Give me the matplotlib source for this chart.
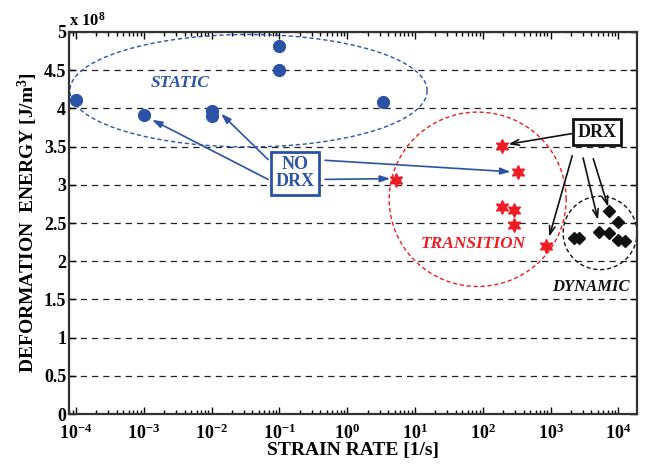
import numpy as np
import matplotlib
matplotlib.use("Agg")
import matplotlib.pyplot as plt
from matplotlib.ticker import FuncFormatter, LogLocator, NullFormatter

matplotlib.rcParams["font.family"] = "Liberation Serif"
matplotlib.rcParams["font.weight"] = "bold"
matplotlib.rcParams["axes.labelweight"] = "bold"
matplotlib.rcParams["mathtext.fontset"] = "custom"
matplotlib.rcParams["mathtext.rm"] = "Liberation Serif:bold"
matplotlib.rcParams["mathtext.it"] = "Liberation Serif:bold:italic"
matplotlib.rcParams["mathtext.bf"] = "Liberation Serif:bold"
matplotlib.rcParams["mathtext.default"] = "rm"

# ── Data ──────────────────────────────────────────────────────────────────────
STATIC_RATE   = [1e-4, 1e-3, 1e-2, 1e-2, 0.1, 0.1, 3.4]
STATIC_ENERGY = [4.11e8, 3.91e8, 3.97e8, 3.90e8, 4.82e8, 4.50e8, 4.08e8]

TRANS_RATE   = [5.2, 195, 330, 195, 290, 290, 870]
TRANS_ENERGY = [3.06e8, 3.51e8, 3.17e8, 2.71e8, 2.67e8, 2.47e8, 2.20e8]

DYN_RATE   = [2200, 2600, 5200, 7400, 7400, 9800, 10000, 12600]
DYN_ENERGY = [2.30e8, 2.30e8, 2.38e8, 2.37e8, 2.66e8, 2.51e8, 2.28e8, 2.26e8]

X_DECADES = [1e-4, 1e-3, 1e-2, 1e-1, 1e0, 1e1, 1e2, 1e3, 1e4]

BLUE  = "#2B52A5"
RED   = "#EE1C25"
BLACK = "#111111"

# ── Figure ────────────────────────────────────────────────────────────────────
fig = plt.figure(figsize=(6.45, 4.68), dpi=100)
ax = fig.add_axes([0.107, 0.115, 0.881, 0.817])
ax.set_xscale("log")
ax.set_xlim(7.9e-5, 1.9e4)
ax.set_ylim(0, 5e8)

ax.set_yticks(np.arange(0, 5.01e8, 0.5e8))
ax.yaxis.set_major_formatter(FuncFormatter(lambda v, p: f"{v / 1e8:g}"))
ax.set_xticks(X_DECADES)
ax.xaxis.set_minor_locator(LogLocator(base=10, subs=np.arange(2, 10), numticks=20))
ax.xaxis.set_minor_formatter(NullFormatter())
ax.tick_params(which="both", direction="in", top=True, right=True,
               labelsize=13, width=1.0)
ax.tick_params(axis="x", pad=7)
ax.tick_params(axis="y", pad=2)
ax.tick_params(which="major", length=5)
ax.tick_params(which="minor", length=3)
ax.yaxis.grid(True, linestyle=(0, (5, 4)), color="#222222", linewidth=0.9)
for s in ax.spines.values():
    s.set_linewidth(1.6)
    s.set_color("#333333")

ax.text(0.0, 1.005, r"x 10$^8$", transform=ax.transAxes, fontsize=12,
        ha="left", va="bottom")
ax.set_xlabel("STRAIN RATE [1/s]", fontsize=14, labelpad=-1)
ax.set_ylabel(r"DEFORMATION  ENERGY [J/m$^3$]", fontsize=14, labelpad=3)


# ── Ellipses (centre in log10-x / y, half axes) ───────────────────────────────
def ellipse(cx_log, cy, rx_log, ry, color):
    t = np.linspace(0, 2 * np.pi, 300)
    ax.plot(10 ** (cx_log + rx_log * np.cos(t)), cy + ry * np.sin(t),
            linestyle=(0, (3, 2)), color=color, linewidth=1.0, clip_on=False)


ellipse(-1.455, 4.23e8, 2.635, 0.735e8, BLUE)
ellipse(1.925, 2.81e8, 1.305, 1.14e8, RED)
ellipse(3.73, 2.37e8, 0.545, 0.48e8, BLACK)

# ── Points ────────────────────────────────────────────────────────────────────
ax.plot(STATIC_RATE, STATIC_ENERGY, "o", color=BLUE, markersize=8.5,
        linestyle="none", clip_on=False, zorder=5)
ax.plot(TRANS_RATE, TRANS_ENERGY, marker=(6, 1, 0), color=RED, markersize=10,
        linestyle="none", zorder=5)
ax.plot(DYN_RATE, DYN_ENERGY, "D", color=BLACK, markersize=6.5,
        linestyle="none", zorder=5)

# ── Labels ────────────────────────────────────────────────────────────────────
ax.text(3.4e-3, 4.33e8, "STATIC", color=BLUE, fontsize=12.5, style="italic",
        ha="center", va="center")
ax.text(72, 2.23e8, "TRANSITION", color=RED, fontsize=12.5, style="italic",
        ha="center", va="center")
ax.text(3900, 1.66e8, "DYNAMIC", color=BLACK, fontsize=12, style="italic",
        ha="center", va="center")

ax.text(0.17, 3.15e8, "NO\nDRX", color=BLUE, fontsize=13, ha="center",
        va="center", linespacing=1.0, zorder=6,
        bbox=dict(boxstyle="square,pad=0.25", fc="white", ec=BLUE, lw=2))
ax.text(4900, 3.69e8, "DRX", color=BLACK, fontsize=13, ha="center",
        va="center", zorder=6,
        bbox=dict(boxstyle="square,pad=0.25", fc="white", ec=BLACK, lw=2))

# ── Arrows (tail, head) ───────────────────────────────────────────────────────
blue_arrows = [
    ((10 ** -1.166, 3.07e8), (10 ** -2.878, 3.85e8)),
    ((10 ** -1.166, 3.33e8), (10 ** -1.86, 3.93e8)),
    ((10 ** -0.325, 3.32e8), (10 ** 2.41, 3.17e8)),
    ((10 ** -0.325, 3.07e8), (10 ** 0.635, 3.08e8)),
]
for tail, head in blue_arrows:
    ax.annotate("", xy=head, xytext=tail,
                arrowprops=dict(arrowstyle="-|>,head_length=0.6,head_width=0.2",
                                color=BLUE, lw=1.2, shrinkA=0, shrinkB=0))

black_arrows = [
    ((10 ** 3.32, 3.67e8), (10 ** 2.376, 3.53e8)),
    ((10 ** 3.32, 3.38e8), (10 ** 2.98, 2.32e8)),
    ((10 ** 3.48, 3.35e8), (10 ** 3.70, 2.54e8)),
    ((10 ** 3.63, 3.34e8), (10 ** 3.85, 2.71e8)),
]
for tail, head in black_arrows:
    ax.annotate("", xy=head, xytext=tail,
                arrowprops=dict(arrowstyle="->,head_length=0.6,head_width=0.2",
                                color=BLACK, lw=1.2, shrinkA=0, shrinkB=0))

fig.savefig("out.png", dpi=100, facecolor="white")
